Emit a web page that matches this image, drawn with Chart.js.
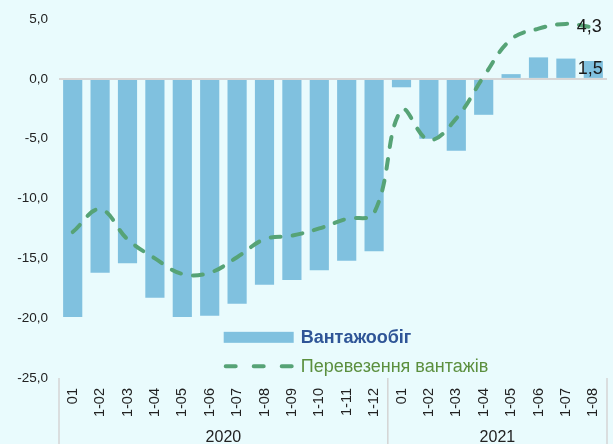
<!DOCTYPE html>
<html>
<head>
<meta charset="utf-8">
<script src="https://cdn.jsdelivr.net/npm/chart.js@4"></script>
<style>
  html, body { margin: 0; padding: 0; background: #e9fbfd; }
  #wrap { width: 613px; height: 444px; position: relative; }
</style>
</head>
<body>
<div id="wrap"><canvas id="grafik"></canvas></div>
<script>
// місяці (підписи осі X)
const months = ['01', '1-02', '1-03', '1-04', '1-05', '1-06', '1-07', '1-08', '1-09', '1-10', '1-11', '1-12',
                '01', '1-02', '1-03', '1-04', '1-05', '1-06', '1-07', '1-08'];
const years = ['2020', '2021'];
const yearSpan = [12, 8];

// Вантажообіг, %
const turnover = [-19.9, -16.2, -15.4, -18.3, -19.9, -19.8, -18.8, -17.2, -16.8, -16.0, -15.2, -14.4,
                  -0.7, -5.0, -6.0, -3.0, 0.4, 1.8, 1.7, 1.5];
// Перевезення вантажів, %
const transport = [-12.8, -10.9, -13.4, -15.0, -16.3, -16.2, -14.9, -13.4, -13.1, -12.5, -11.7, -11.2,
                   -2.6, -5.1, -3.3, 0.2, 3.3, 4.2, 4.6, 4.3];

const seriesNames = ['Вантажообіг', 'Перевезення вантажів'];

const barColor = 'rgb(128, 193, 223)';
const lineColor = 'rgb(86, 163, 118)';
const FONT = '"Liberation Sans", Arial, sans-serif';

function fmt(v) {
    return v.toFixed(1).replace('.', ',');
}

// підписи років, роздільники та легенда
const extras = {
    id: 'extras',
    afterDraw(chart) {
        const ctx = chart.ctx;
        const x = chart.scales.x;
        const area = chart.chartArea;
        const step = x.getPixelForValue(1) - x.getPixelForValue(0);

        ctx.save();
        // роздільники груп
        ctx.strokeStyle = '#d4d4d4';
        ctx.lineWidth = 1.5;
        let start = 0;
        const edges = [x.getPixelForValue(0) - step / 2];
        yearSpan.forEach(function (n) {
            start += n;
            edges.push(x.getPixelForValue(start - 1) + step / 2);
        });
        edges.forEach(function (ex) {
            ctx.beginPath();
            ctx.moveTo(ex, area.bottom);
            ctx.lineTo(ex, chart.height);
            ctx.stroke();
        });
        // роки
        ctx.fillStyle = '#222';
        ctx.font = '16px ' + FONT;
        ctx.textAlign = 'center';
        ctx.textBaseline = 'middle';
        years.forEach(function (y, i) {
            ctx.fillText(y, (edges[i] + edges[i + 1]) / 2, chart.height - 6);
        });

        // підписи останніх значень
        ctx.font = '18px ' + FONT;
        ctx.fillStyle = '#1a1a1a';
        const last = months.length - 1;
        const lp = chart.getDatasetMeta(1).data[last];
        const bp = chart.getDatasetMeta(0).data[last];
        ctx.fillText(fmt(transport[last]), lp.x - 4, lp.y);
        ctx.fillText(fmt(turnover[last]), bp.x - 3, bp.y + 8);

        // легенда
        const lx = x.getPixelForValue(5) + 14;
        const ly = chart.scales.y.getPixelForValue(-21.6);
        ctx.fillStyle = barColor;
        ctx.fillRect(lx, ly - 5.5, 70, 11);
        ctx.font = 'bold 18px ' + FONT;
        ctx.textAlign = 'left';
        ctx.fillStyle = '#2f5597';
        ctx.fillText(seriesNames[0], lx + 77, ly + 1);

        const ly2 = ly + 29;
        ctx.strokeStyle = lineColor;
        ctx.lineWidth = 4;
        ctx.lineCap = 'round';
        ctx.setLineDash([10, 18]);
        ctx.beginPath();
        ctx.moveTo(lx + 2, ly2);
        ctx.lineTo(lx + 70, ly2);
        ctx.stroke();
        ctx.setLineDash([]);
        ctx.font = '18px ' + FONT;
        ctx.fillStyle = '#5b8f3e';
        ctx.fillText(seriesNames[1], lx + 77, ly2 + 1);
        ctx.restore();
    }
};

const chart = new Chart(document.getElementById('grafik'), {
    type: 'bar',
    data: {
        labels: months,
        datasets: [
            {
                label: seriesNames[0],
                data: turnover,
                backgroundColor: barColor,
                categoryPercentage: 1,
                barPercentage: 0.7,
                order: 2
            },
            {
                type: 'line',
                label: seriesNames[1],
                data: transport,
                borderColor: lineColor,
                borderWidth: 4,
                borderDash: [10, 12],
                borderCapStyle: 'round',
                pointRadius: 0,
                tension: 0.4,
                fill: false,
                order: 1
            }
        ]
    },
    options: {
        responsive: true,
        maintainAspectRatio: false,
        animation: false,
        layout: {
            padding: { top: 4, right: 6, left: 0, bottom: 0 }
        },
        scales: {
            y: {
                min: -25,
                max: 5,
                ticks: {
                    stepSize: 5,
                    color: '#222',
                    padding: 11,
                    font: { family: FONT, size: 13.5 },
                    callback: function (v) { return fmt(v); }
                },
                grid: {
                    drawTicks: false,
                    lineWidth: 2,
                    color: function (c) { return c.tick && c.tick.value === 0 ? '#d6d6d6' : 'transparent'; }
                },
                border: { display: false },
                afterFit: function (s) { s.width = 59; }
            },
            x: {
                ticks: {
                    minRotation: 90,
                    maxRotation: 90,
                    autoSkip: false,
                    color: '#222',
                    padding: 2,
                    font: { family: FONT, size: 14.5 }
                },
                grid: { display: false },
                border: { display: false },
                afterFit: function (s) { s.height = 66; }
            }
        },
        plugins: {
            legend: { display: false },
            tooltip: { enabled: false }
        }
    },
    plugins: [extras]
});
</script>
</body>
</html>
